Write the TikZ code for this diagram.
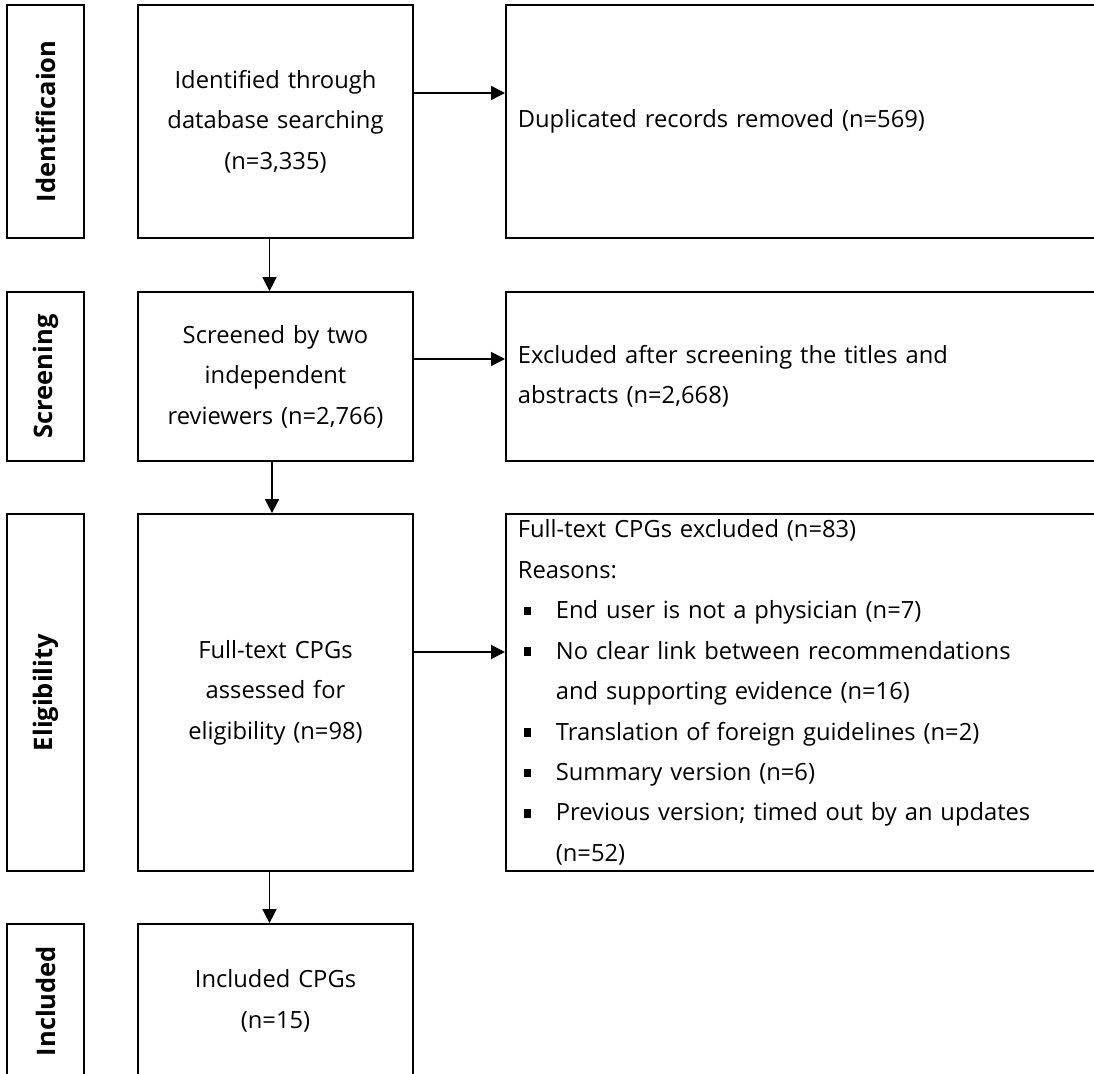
\documentclass[tikz,border=0pt]{standalone}
\usepackage{fontspec}
\setmainfont{Open Sans}
\newfontfamily\widefont{Open Sans}[WordSpace={1.9,1,1}]
\usetikzlibrary{arrows.meta}

\newcommand{\bodyfont}{\XeTeXinterwordspaceshaping=0\relax\widefont\fontsize{13.5}{23}\selectfont}
\newcommand{\sqbullet}{\makebox[0.76cm][l]{\hspace{0.12cm}\rule[0.14em]{0.15cm}{0.17cm}}}

\begin{document}
\begin{tikzpicture}
    % Stili
    \tikzset{
        phase/.style={
            rectangle,
            draw=black,
            rotate=90,
            minimum width=#1,
            minimum height=1.54cm,
            inner sep=0pt,
            line width=1pt,
            font=\fontsize{14.5}{17}\selectfont\bfseries
        },
        stage/.style={
            rectangle,
            draw=black,
            font=\bodyfont,
            text width=5.2cm,
            align=center,
            minimum width=5.5cm,
            minimum height=#1,
            inner sep=0pt,
            line width=1pt
        },
        outcome/.style={
            rectangle,
            draw=black,
            font=\bodyfont,
            anchor=west,
            text width=11.5cm,
            align=left,
            inner xsep=0.24cm,
            inner ysep=0pt,
            minimum height=#1,
            line width=1pt
        },
        arrow/.style={-{Triangle[length=2.8mm, width=2.8mm]}, line width=0.9pt}
    }

    \clip (0,0) rectangle (21.88,-21.48);

    % Fasi
    \node[phase=4.66cm] at (0.91,-2.43) (lab1) {Identificaion};
    \node[phase=3.38cm] at (0.91,-7.53) (lab2) {Screening};
    \node[phase=7.14cm] at (0.91,-13.85) (lab3) {Eligibility};
    \node[phase=3.08cm] at (0.91,-20.02) (lab4) {Included};

    % Blocchi centrali
    \node[stage=4.66cm] at (5.51,-2.43) (ident) {
        Identified through\\
        database searching\\
        (n=3,335)
    };
    \node[stage=3.38cm] at (5.51,-7.53) (screen) {
        Screened by two\\
        independent\\
        reviewers (n=2,766)
    };
    \node[stage=7.14cm] at (5.51,-13.85) (elig) {
        Full-text CPGs\\
        assessed for\\
        eligibility (n=98)
    };
    \node[stage=3.08cm] at (5.51,-20.02) (incl) {
        Included CPGs\\
        (n=15)
    };

    % Esclusioni
    \node[outcome=4.66cm] at (10.1,-2.43) (dup) {Duplicated records removed (n=569)};
    \node[outcome=3.38cm] at (10.1,-7.53) (excl) {
        Excluded after screening the titles and\\
        abstracts (n=2,668)
    };
    \node[outcome=7.14cm] at (10.1,-13.85) (full) {
        Full-text CPGs excluded (n=83)\\
        Reasons:\\
        \sqbullet End user is not a physician (n=7)\\
        \sqbullet No clear link between recommendations\\
        \hspace*{0.76cm}and supporting evidence (n=16)\\
        \sqbullet Translation of foreign guidelines (n=2)\\
        \sqbullet Summary version (n=6)\\
        \sqbullet Previous version; timed out by an updates\\
        \hspace*{0.76cm}(n=52)
    };

    % Frecce verticali
    \draw[arrow] ([xshift=-1.2mm]ident.south) -- ([xshift=-1.2mm]screen.north);
    \draw[arrow] ([xshift=-0.7mm]screen.south) -- ([xshift=-0.7mm]elig.north);
    \draw[arrow] ([xshift=-1.2mm]elig.south) -- ([xshift=-1.2mm]incl.north);

    % Frecce orizzontali
    \draw[arrow] ([yshift=5.7mm]ident.east) -- ([yshift=5.7mm]ident.east -| dup.west);
    \draw[arrow] ([yshift=3.5mm]screen.east) -- ([yshift=3.5mm]screen.east -| excl.west);
    \draw[arrow] ([yshift=8.1mm]elig.east) -- ([yshift=8.1mm]elig.east -| full.west);

\end{tikzpicture}
\end{document}
